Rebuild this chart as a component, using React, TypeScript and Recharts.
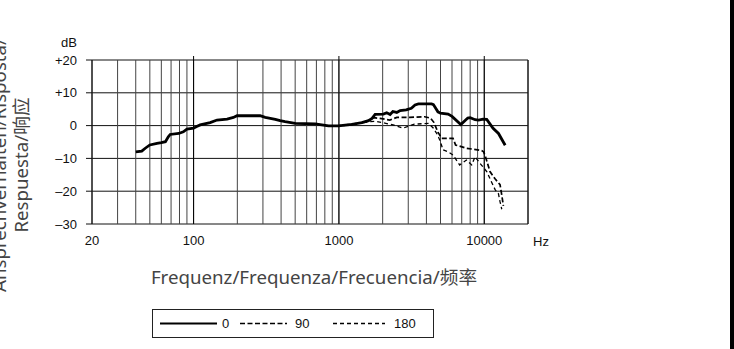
import React from 'react';
import { CartesianGrid, Line, LineChart, ReferenceLine, XAxis, YAxis } from 'recharts';

// frequency grid (log decades) and labelled ticks
const gridFreqs = [
  20, 30, 40, 50, 60, 70, 80, 90,
  100, 200, 300, 400, 500, 600, 700, 800, 900,
  1000, 2000, 3000, 4000, 5000, 6000, 7000, 8000, 9000,
  10000, 20000,
];
const labelFreqs = [20, 100, 1000, 10000];
const decadeFreqs = [100, 1000, 10000];
const dbTicks = [-30, -20, -10, 0, 10, 20];

// 0 degrees
const freq0 = [
  40, 44, 46.5, 50, 56, 60, 64, 67, 69, 79, 85, 90, 100, 105, 111, 130, 145, 170, 188, 199,
  265, 287, 311, 365, 394, 426, 500, 687, 804, 848, 994, 1228, 1438, 1598, 1690, 1775, 2024,
  2133, 2250, 2350, 2500, 2640, 2900, 3150, 3340, 3525, 4340, 4470, 4800, 5000, 5640, 6000,
  6900, 7700, 8000, 8650, 9150, 9800, 10400, 11500, 12530, 13930,
];
const db0 = [
  -8.0, -7.8, -6.9, -5.9, -5.4, -5.2, -4.9, -3.4, -2.7, -2.4, -1.9, -1.1, -0.8, -0.3, 0.2, 0.9, 1.7, 2.0, 2.5, 3.0,
  3.0, 3.0, 2.5, 1.9, 1.5, 1.2, 0.7, 0.5, 0.1, -0.1, -0.1, 0.4, 0.9, 1.5, 2.2, 3.4, 3.5,
  3.9, 3.4, 4.3, 4.0, 4.6, 4.8, 5.3, 6.3, 6.6, 6.6, 6.4, 4.2, 3.8, 3.5, 2.8,
  0.3, 2.3, 2.4, 1.8, 1.7, 2.0, 1.9, -0.8, -2.4, -6.0,
];

// 90 degrees
const freq90 = [
  848, 994, 1228, 1438, 1598, 1729, 1920, 2240, 2505, 3070, 3890, 4260, 4500, 4800, 5100,
  6100, 6350, 7540, 9600, 9900, 10200, 10950, 11900, 12840, 13200, 13550,
];
const db90 = [
  -0.1, -0.1, 0.4, 0.9, 1.5, 2.4, 2.2, 1.7, 2.5, 2.5, 2.7, 2.3, 1.0, -2.0, -3.9,
  -3.9, -5.9, -6.9, -7.6, -8.0, -9.5, -14.0, -16.3, -18.0, -21.2, -24.5,
];

// 180 degrees
const freq180 = [
  848, 994, 1228, 1438, 1650, 1800, 2100, 2360, 2760, 3260, 4140, 4470, 4800, 5000, 5200,
  5640, 6100, 6780, 7540, 8200, 8650, 9350, 10400, 11200, 11900, 12500, 12840, 13200,
];
const db180 = [
  -0.1, -0.1, 0.4, 0.9, 1.2, 1.3, 0.7, 0.2, -0.8, 0.4, 0.7, -0.8, -3.0, -5.0, -7.4,
  -8.0, -9.0, -12.0, -10.5, -12.0, -9.5, -11.5, -14.0, -17.1, -19.6, -20.6, -23.2, -25.5,
];

const legendLabels = ['0', '90', '180'];

const toPoints = (f: number[], v: number[]) => f.map((x, i) => ({ f: x, db: v[i] }));

const series = [
  { name: legendLabels[0], data: toPoints(freq0, db0), width: 2.8, dash: undefined as string | undefined, color: '#000' },
  { name: legendLabels[1], data: toPoints(freq90, db90), width: 1.7, dash: '5 2.5', color: '#000' },
  { name: legendLabels[2], data: toPoints(freq180, db180), width: 1.3, dash: '4 3', color: '#000' },
];

const fmtDb = (v: number) => (v > 0 ? `+${v}` : v < 0 ? `–${Math.abs(v)}` : '0');
const fmtHz = (v: number) => (labelFreqs.includes(v) ? String(v) : '');

const tickFont = { fontSize: 13, fill: '#111', fontFamily: '"Liberation Sans", Arial, sans-serif' };
const titleFont = '"Noto Sans", "Noto Sans CJK SC", sans-serif';

// legend sample layout: [lineStart, lineEnd, textX]
const legendSlots = [
  [160, 217, 222],
  [240, 287, 295],
  [333, 385, 394],
];

export default function App() {
  return (
    <div style={{ position: 'absolute', left: 0, top: 0, width: 734, height: 349, background: '#fff' }}>
      <LineChart width={734} height={349} margin={{ top: 56, right: 196, bottom: 105, left: 0 }}>
        <CartesianGrid vertical={false} stroke="#111" strokeWidth={1} />
        <CartesianGrid horizontal={false} stroke="#444" strokeWidth={1} />
        <XAxis
          dataKey="f"
          type="number"
          scale="log"
          domain={[20, 20000]}
          allowDataOverflow
          ticks={gridFreqs}
          tickFormatter={fmtHz}
          tickLine={false}
          axisLine={false}
          tickSize={0}
          tickMargin={12}
          height={20}
          tick={tickFont}
          interval={0}
        />
        <XAxis
          xAxisId="top"
          orientation="top"
          dataKey="f"
          type="number"
          scale="log"
          domain={[20, 20000]}
          allowDataOverflow
          ticks={decadeFreqs}
          tickFormatter={() => ''}
          axisLine={false}
          tickSize={4}
          tickLine={{ stroke: '#000' }}
          height={4}
        />
        <YAxis
          type="number"
          domain={[-30, 20]}
          ticks={dbTicks}
          tickFormatter={fmtDb}
          axisLine={false}
          tickSize={6}
          tickMargin={9}
          tickLine={{ stroke: '#111' }}
          tick={tickFont}
          width={92}
          interval={0}
        />
        <YAxis
          yAxisId="r"
          orientation="right"
          type="number"
          domain={[-30, 20]}
          ticks={dbTicks}
          tickFormatter={() => ''}
          axisLine={false}
          tickSize={3}
          tickLine={{ stroke: '#111' }}
          width={10}
        />
        {decadeFreqs.map((f) => (
          <ReferenceLine key={f} x={f} stroke="#000" strokeWidth={1} />
        ))}
        <ReferenceLine x={20} stroke="#000" strokeWidth={1} />
        <ReferenceLine x={20000} stroke="#000" strokeWidth={1} />
        {series.map((s) => (
          <Line
            key={s.name}
            data={s.data}
            dataKey="db"
            type="linear"
            stroke={s.color}
            strokeWidth={s.width}
            strokeDasharray={s.dash}
            dot={false}
            activeDot={false}
            isAnimationActive={false}
          />
        ))}
      </LineChart>

      <svg
        width={734}
        height={349}
        style={{ position: 'absolute', left: 0, top: 0, pointerEvents: 'none' }}
      >
        <text x={77} y={47} textAnchor="end" {...tickFont}>dB</text>
        <text x={533} y={246} {...tickFont}>Hz</text>
        <text x={314} y={284} textAnchor="middle" fontSize={18.7} fill="#444" fontFamily={titleFont}>
          Frequenz/Frequenza/Frecuencia/频率
        </text>
        <text transform="translate(6,165) rotate(-90)" textAnchor="middle" fontSize={18.7} fill="#444" fontFamily={titleFont}>
          Ansprechverhalten/Risposta/
        </text>
        <text transform="translate(28,165) rotate(-90)" textAnchor="middle" fontSize={18.7} fill="#444" fontFamily={titleFont}>
          Respuesta/响应
        </text>

        <rect x={152.5} y={309.5} width={281} height={28} fill="#fff" stroke="#222" strokeWidth={1} />
        {series.map((s, i) => (
          <g key={s.name}>
            <line
              x1={legendSlots[i][0]}
              x2={legendSlots[i][1]}
              y1={323.5}
              y2={323.5}
              stroke={s.color}
              strokeWidth={Math.min(s.width, 2.2)}
              strokeDasharray={s.dash}
            />
            <text x={legendSlots[i][2]} y={328} {...tickFont}>{s.name}</text>
          </g>
        ))}

        <rect x={730} y={0} width={4} height={349} fill="#000" />
      </svg>
    </div>
  );
}
